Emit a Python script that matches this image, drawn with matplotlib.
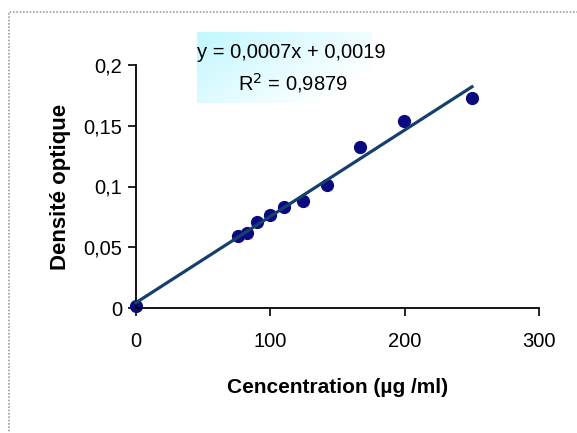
import numpy as np
import matplotlib
matplotlib.use("Agg")
import matplotlib.pyplot as plt
from matplotlib.patches import Rectangle
from matplotlib.ticker import FuncFormatter

plt.rcParams['font.family'] = ['Liberation Sans', 'DejaVu Sans']

concentration = [0, 76.3, 83.0, 89.9, 99.8, 110.2, 124.3, 142.4, 166.7, 199.4, 250.1]
densite = [0.002, 0.059, 0.0621, 0.0709, 0.0764, 0.0828, 0.0877, 0.1013, 0.1322, 0.1542, 0.173]
equation_text = "y = 0,0007x + 0,0019"
r2_text = "R$^2$ = 0,9879"
x_ticks = [0, 100, 200, 300]
y_ticks = [0, 0.05, 0.1, 0.15, 0.2]

W, H = 577, 433
fig = plt.figure(figsize=(W / 100, H / 100), dpi=100)

def fx(px):
    return px / W

def fy(py):
    return 1 - py / H

# figure dotted border
fig.patches.append(Rectangle((fx(9), fy(445)), fx(580) - fx(9), fy(12) - fy(445),
                             transform=fig.transFigure, fill=False,
                             edgecolor='#a0a0a0', linestyle=(0, (1, 1)), linewidth=1.2))

ax = fig.add_axes([fx(136), fy(308), fx(539) - fx(136), fy(65) - fy(308)])
ax.set_xlim(0, 300)
ax.set_ylim(0, 0.2)

# gradient box behind the equation
gax = fig.add_axes([fx(197), fy(103), fx(372) - fx(197), fy(32) - fy(103)])
gx = np.linspace(0, 1, 200)
gy = np.linspace(0, 1, 60)
GX, GY = np.meshgrid(gx, gy)
t = np.clip(0.75 * GX + 0.45 * GY, 0, 1)
c0 = np.array([0.76, 0.97, 1.0])
c1 = np.array([1.0, 1.0, 1.0])
img = c0[None, None, :] * (1 - t[..., None]) + c1[None, None, :] * t[..., None]
gax.imshow(img, aspect='auto', extent=[0, 1, 0, 1], origin='upper')
gax.axis('off')
gax.set_zorder(0)
ax.set_zorder(1)
ax.patch.set_alpha(0)

slope, intercept = np.polyfit(concentration, densite, 1)
xs = np.array([0, max(concentration)])
ax.plot(xs, slope * xs + intercept, color='#16406b', linewidth=2.3, zorder=3, clip_on=False)
ax.plot(concentration, densite, 'o', color='#0a0a80', markersize=8.5, zorder=2, clip_on=False)

for s in ['top', 'right']:
    ax.spines[s].set_visible(False)
for s in ['left', 'bottom']:
    ax.spines[s].set_linewidth(1.3)
    ax.spines[s].set_color('black')

ax.set_xticks(x_ticks)
ax.set_yticks(y_ticks)
ax.yaxis.set_major_formatter(FuncFormatter(lambda v, p: ('%g' % v).replace('.', ',')))
ax.tick_params(direction='out', length=6, width=1.2, labelsize=14.5, pad=4)
ax.tick_params(axis='x', pad=11)

ax.set_xlabel("Cencentration (µg /ml)", fontsize=15, fontweight='bold', labelpad=20)
ax.set_ylabel("Densité optique", fontsize=16, fontweight='bold', labelpad=9)

fig.text(fx(291), fy(52), equation_text, fontsize=14.5, ha='center', va='center')
fig.text(fx(293), fy(83), r2_text, fontsize=14.5, ha='center', va='center')

fig.savefig("out.png", dpi=100)
